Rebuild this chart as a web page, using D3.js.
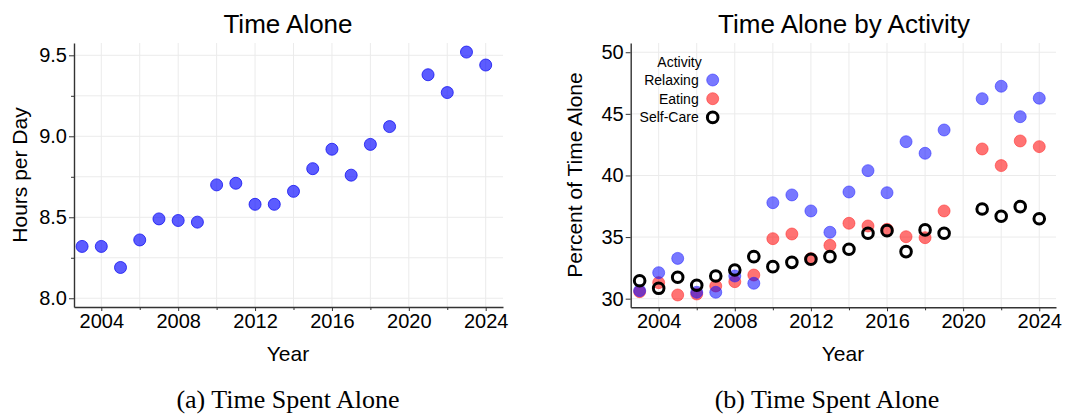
<!DOCTYPE html>
<html>
<head>
<meta charset="utf-8">
<script src="https://cdn.jsdelivr.net/npm/d3@7"></script>
<style>
  body { margin: 0; background: #fff; }
  svg { display: block; font-family: "Liberation Sans", Arial, sans-serif; }
  .grid line { stroke: #ebebeb; stroke-width: 1; }
  .axis path, .axis line { stroke: #333; }
  .axis path { stroke-width: 1.4; }
  .axis text { font-family: "Liberation Sans", Arial, sans-serif; font-size: 20px; fill: #000; }
</style>
</head>
<body>
<script>
// DATA
const years = [2003, 2004, 2005, 2006, 2007, 2008, 2009, 2010, 2011, 2012, 2013,
  2014, 2015, 2016, 2017, 2018, 2019, 2021, 2022, 2023, 2024];
const hoursPerDay = [8.32, 8.32, 8.19, 8.36, 8.49, 8.48, 8.47, 8.70, 8.71, 8.58, 8.58,
  8.66, 8.80, 8.92, 8.76, 8.95, 9.06, 9.38, 9.27, 9.52, 9.44];
const relaxing = [30.65, 32.11, 33.27, 30.52, 30.52, 31.84, 31.25, 37.79, 38.42, 37.12, 35.39,
  38.66, 40.39, 38.60, 42.74, 41.80, 43.69, 46.23, 47.24, 44.77, 46.27];
const eating = [30.57, 31.30, 30.30, 30.38, 31.03, 31.38, 31.92, 34.87, 35.25, 33.25, 34.33,
  36.12, 35.90, 35.63, 35.03, 34.95, 37.12, 42.15, 40.80, 42.80, 42.34];
const selfCare = [31.46, 30.84, 31.74, 31.09, 31.84, 32.33, 33.41, 32.60, 32.95, 33.20, 33.41,
  34.01, 35.31, 35.52, 33.82, 35.58, 35.31, 37.28, 36.69, 37.47, 36.49];
const xMajorTicks = [2004, 2008, 2012, 2016, 2020, 2024];
const xMinorTicks = [2006, 2010, 2014, 2018, 2022];
const hoursMajorTicks = [8.0, 8.5, 9.0, 9.5];
const hoursMinorTicks = [8.25, 8.75, 9.25];
const percentTicks = [30, 35, 40, 45, 50];
const activities = ["Relaxing", "Eating", "Self-Care"];

const width = 1073;
const height = 417;

const svg = d3.select("body").append("svg")
  .attr("width", width)
  .attr("height", height);

// HELPERS
const drawGrid = (g, x, y, vTicks, hTicks) => {
  const [x0, x1] = x.range();
  const [y0, y1] = y.range();
  const grid = g.append("g").attr("class", "grid");
  grid.selectAll("line.v").data(vTicks).enter().append("line")
    .attr("class", "v")
    .attr("x1", (d) => x(d)).attr("x2", (d) => x(d))
    .attr("y1", y0).attr("y2", y1);
  grid.selectAll("line.h").data(hTicks).enter().append("line")
    .attr("class", "h")
    .attr("x1", x0).attr("x2", x1)
    .attr("y1", (d) => y(d)).attr("y2", (d) => y(d));
};

const drawXAxis = (g, x, y) => {
  const yPos = y.range()[0];
  g.append("g")
    .attr("class", "axis")
    .attr("transform", `translate(0,${yPos})`)
    .call(d3.axisBottom(x).tickValues(xMinorTicks).tickSize(3).tickFormat(""))
    .call((a) => a.select(".domain").remove());
  g.append("g")
    .attr("class", "axis")
    .attr("transform", `translate(0,${yPos})`)
    .call(d3.axisBottom(x).tickValues(xMajorTicks).tickSize(4).tickSizeOuter(0)
      .tickPadding(3).tickFormat(d3.format("d")));
};

const drawYAxis = (g, x, y, major, minor, fmt) => {
  const xPos = x.range()[0];
  if (minor.length) {
    g.append("g")
      .attr("class", "axis")
      .attr("transform", `translate(${xPos},0)`)
      .call(d3.axisLeft(y).tickValues(minor).tickSize(3).tickFormat(""))
      .call((a) => a.select(".domain").remove());
  }
  g.append("g")
    .attr("class", "axis")
    .attr("transform", `translate(${xPos},0)`)
    .call(d3.axisLeft(y).tickValues(major).tickSize(5).tickSizeOuter(0)
      .tickPadding(2).tickFormat(fmt));
};

const addText = (g, x, y, txt, size, opts = {}) => {
  const t = g.append("text")
    .attr("x", x).attr("y", y)
    .attr("text-anchor", opts.anchor || "middle")
    .attr("font-size", size)
    .attr("fill", "#000")
    .text(txt);
  if (opts.rotate) t.attr("transform", `rotate(-90,${x},${y})`);
  if (opts.family) t.attr("font-family", opts.family);
  return t;
};

const captionFont = "'Liberation Serif', 'Times New Roman', serif";

// LEFT CHART
const xLeft = d3.scaleLinear().domain([2002.58, 2024.9]).range([74, 503]);
const yLeft = d3.scaleLinear().domain([7.946, 9.576]).range([307, 43]);
const left = svg.append("g");

drawGrid(left, xLeft, yLeft, [...xMajorTicks, ...xMinorTicks], [...hoursMajorTicks, ...hoursMinorTicks]);

left.selectAll("circle")
  .data(years.map((yr, i) => ({ year: yr, value: hoursPerDay[i] })))
  .enter().append("circle")
  .attr("cx", (d) => xLeft(d.year))
  .attr("cy", (d) => yLeft(d.value))
  .attr("r", 6)
  .attr("fill", "rgba(0,0,255,0.64)")
  .attr("stroke", "rgba(20,20,240,0.8)")
  .attr("stroke-width", 1);

drawXAxis(left, xLeft, yLeft);
drawYAxis(left, xLeft, yLeft, hoursMajorTicks, hoursMinorTicks, d3.format(".1f"));

addText(left, 288, 33, "Time Alone", 26);
addText(left, 288, 361, "Year", 21);
addText(left, 27, 175, "Hours per Day", 21, { rotate: true });
addText(left, 288, 408, "(a) Time Spent Alone", 26, { family: captionFont });

// RIGHT CHART
const xRight = d3.scaleLinear().domain([2002.53, 2024.88]).range([630.7, 1056]);
const yRight = d3.scaleLinear().domain([29.3, 50.75]).range([307.3, 43]);
const right = svg.append("g");

drawGrid(right, xRight, yRight, [...xMajorTicks, ...xMinorTicks], percentTicks);

const series = [
  { name: "Eating", values: eating, fill: "rgba(255,0,0,0.55)", stroke: "rgba(255,40,40,0.55)", sw: 1, r: 6 },
  { name: "Relaxing", values: relaxing, fill: "rgba(0,0,255,0.53)", stroke: "rgba(40,40,255,0.55)", sw: 1, r: 6 },
  { name: "Self-Care", values: selfCare, fill: "none", stroke: "#000", sw: 3, r: 5.3 }
];

series.forEach((s) => {
  right.append("g").selectAll("circle")
    .data(years.map((yr, i) => ({ year: yr, value: s.values[i] })))
    .enter().append("circle")
    .attr("cx", (d) => xRight(d.year))
    .attr("cy", (d) => yRight(d.value))
    .attr("r", s.r)
    .attr("fill", s.fill)
    .attr("stroke", s.stroke)
    .attr("stroke-width", s.sw);
});

drawXAxis(right, xRight, yRight);
drawYAxis(right, xRight, yRight, percentTicks, [], d3.format("d"));

addText(right, 844, 33, "Time Alone by Activity", 26);
addText(right, 843, 361, "Year", 21);
addText(right, 582, 175, "Percent of Time Alone", 21, { rotate: true });
addText(right, 827, 408, "(b) Time Spent Alone", 26, { family: captionFont });

// LEGEND
const legend = right.append("g").attr("transform", "translate(712.7,80)");
addText(legend, -11, -13, "Activity", 14, { anchor: "end" });
const legendStyle = {
  Relaxing: series[1],
  Eating: series[0],
  "Self-Care": series[2]
};
activities.forEach((name, i) => {
  const s = legendStyle[name];
  legend.append("circle")
    .attr("cx", 0)
    .attr("cy", i * 18.7)
    .attr("r", s.r)
    .attr("fill", s.fill)
    .attr("stroke", s.stroke)
    .attr("stroke-width", s.sw);
  addText(legend, -14, i * 18.7 + 5, name, 14, { anchor: "end" });
});
</script>
</body>
</html>
